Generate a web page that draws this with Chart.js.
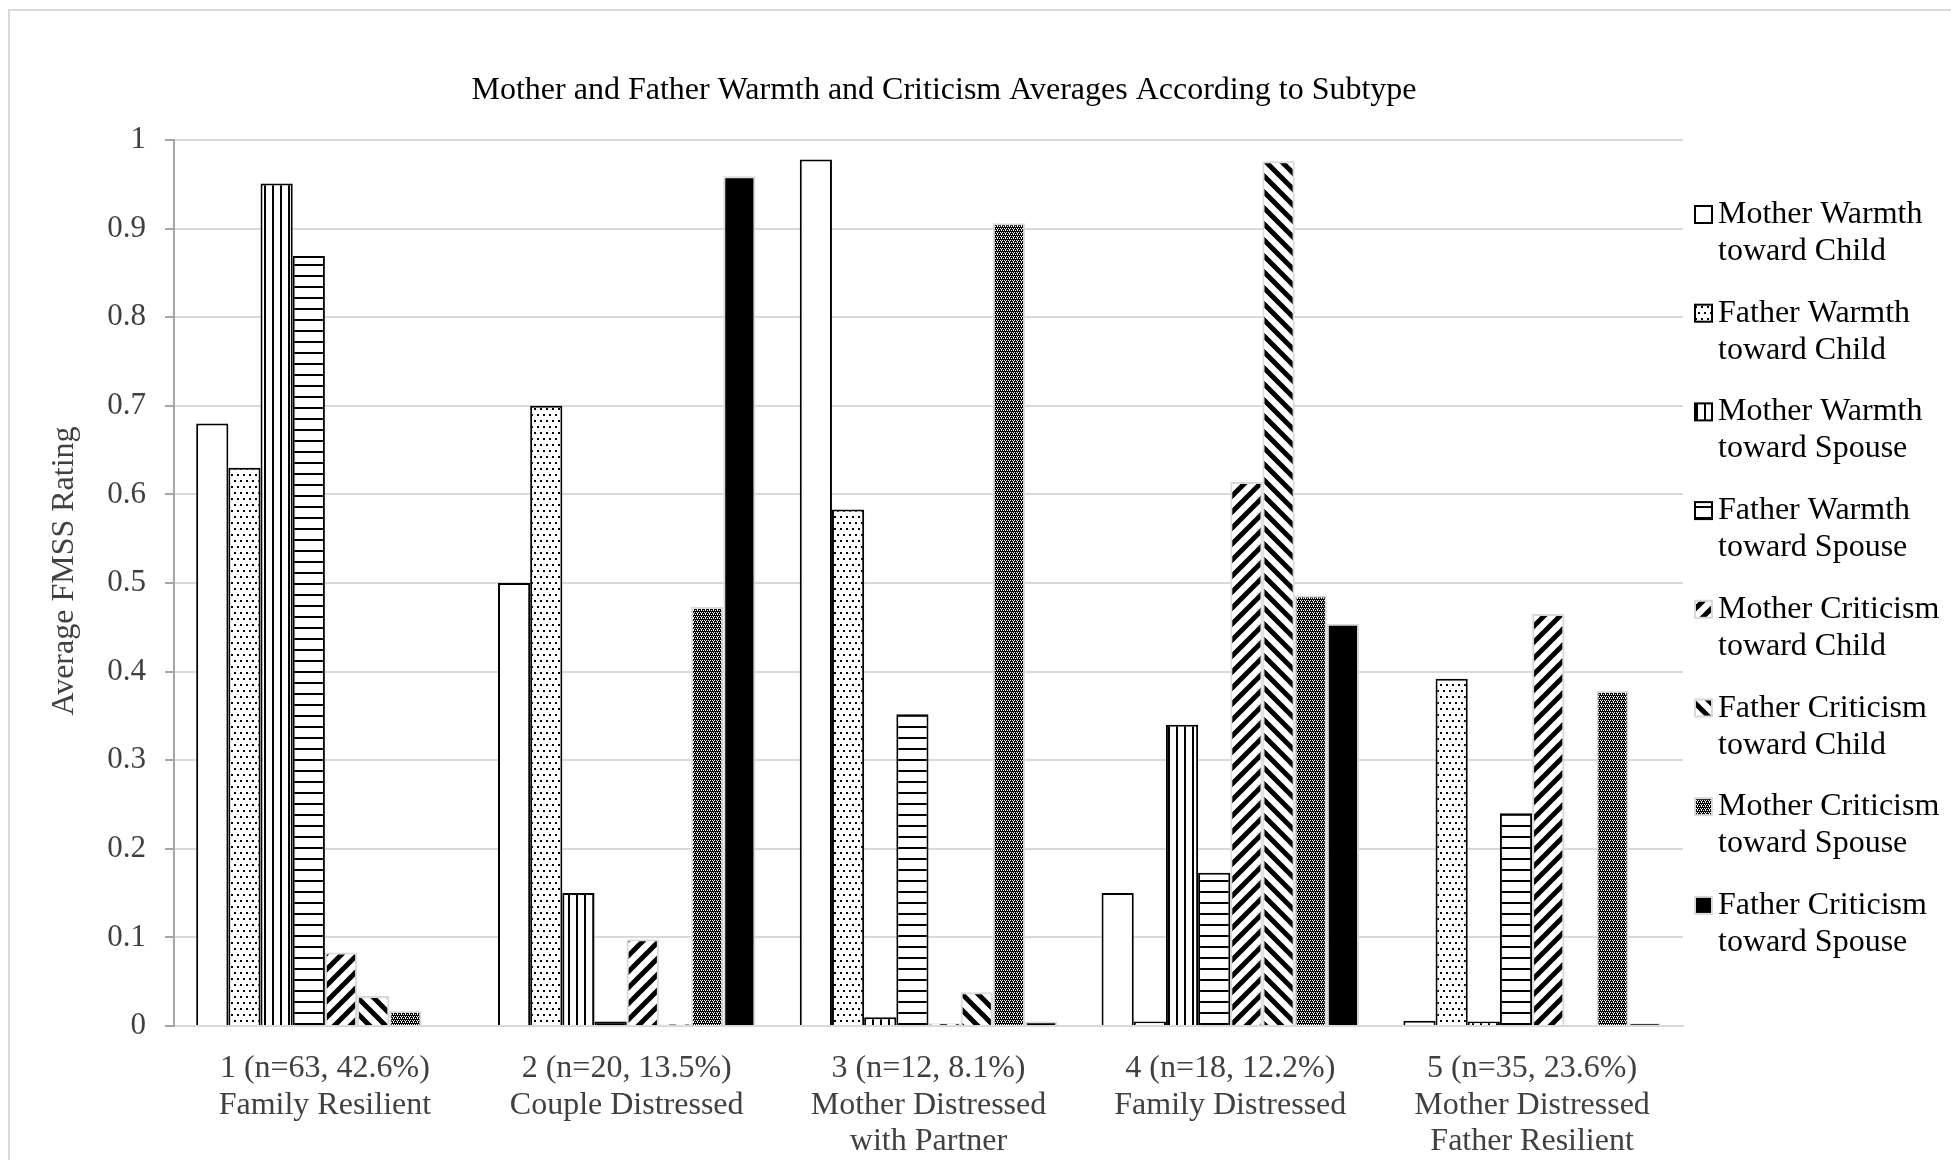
<!DOCTYPE html>
<html>
<head>
<meta charset="utf-8">
<script src="https://cdn.jsdelivr.net/npm/chart.js@4"></script>
<style>
  html, body { margin: 0; padding: 0; background: #fff; overflow: hidden; }
  #frame { position: absolute; left: 8px; top: 9px; width: 2000px; height: 1200px; border: 2px solid #d9d9d9; }
  #wrap { position: absolute; left: 0; top: 0; width: 1951px; height: 1160px; }
</style>
</head>
<body>
<div id="frame"></div>
<div id="wrap"><canvas id="fmssChart"></canvas></div>
<script>
const categories = [
    ["1 (n=63, 42.6%)", "Family Resilient"],
    ["2 (n=20, 13.5%)", "Couple Distressed"],
    ["3 (n=12, 8.1%)", "Mother Distressed", "with Partner"],
    ["4 (n=18, 12.2%)", "Family Distressed"],
    ["5 (n=35, 23.6%)", "Mother Distressed", "Father Resilient"]
];

const seriesNames = [
    ["Mother Warmth", "toward Child"],
    ["Father Warmth", "toward Child"],
    ["Mother Warmth", "toward Spouse"],
    ["Father Warmth", "toward Spouse"],
    ["Mother Criticism", "toward Child"],
    ["Father Criticism", "toward Child"],
    ["Mother Criticism", "toward Spouse"],
    ["Father Criticism", "toward Spouse"]
];

const motherWarmthChild   = [0.68, 0.50, 0.978, 0.15, 0.006];
const fatherWarmthChild   = [0.63, 0.70, 0.583, 0.005, 0.392];
const motherWarmthSpouse  = [0.951, 0.15, 0.01, 0.34, 0.005];
const fatherWarmthSpouse  = [0.869, 0.005, 0.352, 0.173, 0.24];
const motherCritChild     = [0.083, 0.098, 0.003, 0.614, 0.465];
const fatherCritChild     = [0.034, 0.002, 0.038, 0.976, 0.001];
const motherCritSpouse    = [0.017, 0.473, 0.906, 0.486, 0.378];
const fatherCritSpouse    = [0.001, 0.959, 0.005, 0.454, 0.003];

const yTicks = [0, 0.1, 0.2, 0.3, 0.4, 0.5, 0.6, 0.7, 0.8, 0.9, 1];

const chartTitle = "Mother and Father Warmth and Criticism Averages According to Subtype";
const yTitle = "Average FMSS Rating";

const serif = "'Times New Roman', 'Liberation Serif', serif";

// pattern tiles, roughly like the Excel fills
function makeTile(w, h, draw) {
    const c = document.createElement("canvas");
    c.width = w;
    c.height = h;
    const g = c.getContext("2d");
    g.fillStyle = "#fff";
    g.fillRect(0, 0, w, h);
    g.fillStyle = "#000";
    g.strokeStyle = "#000";
    draw(g, w, h);
    return document.createElement("canvas").getContext("2d").createPattern(c, "repeat");
}

const fills = [
    "#ffffff",
    makeTile(6, 12, g => { g.fillRect(0, 0, 2, 2); g.fillRect(3, 6, 2, 2); }),
    makeTile(8, 4, g => { g.fillRect(0, 0, 2, 4); }),
    makeTile(4, 11, g => { g.fillRect(0, 0, 4, 2); }),
    makeTile(16, 16, g => {
        g.lineWidth = 5;
        g.beginPath();
        g.moveTo(-4, 20); g.lineTo(20, -4);
        g.moveTo(-12, 12); g.lineTo(12, -12);
        g.moveTo(4, 28); g.lineTo(28, 4);
        g.stroke();
    }),
    makeTile(16, 16, g => {
        g.lineWidth = 5;
        g.beginPath();
        g.moveTo(-4, -4); g.lineTo(20, 20);
        g.moveTo(-12, 4); g.lineTo(12, 28);
        g.moveTo(4, -12); g.lineTo(28, 12);
        g.stroke();
    }),
    makeTile(4, 4, g => {
        g.fillRect(0, 0, 4, 4);
        g.fillStyle = "#fff";
        g.fillRect(0, 0, 1, 1); g.fillRect(2, 0, 1, 1);
        g.fillRect(1, 2, 1, 1); g.fillRect(3, 2, 1, 1);
        g.fillRect(1, 1, 1, 1);
    }),
    "#000000"
];
const edges = ["#000", "#000", "#000", "#000", "#d9d9d9", "#d9d9d9", "#d9d9d9", "#d9d9d9"];

const allValues = [motherWarmthChild, fatherWarmthChild, motherWarmthSpouse, fatherWarmthSpouse,
                   motherCritChild, fatherCritChild, motherCritSpouse, fatherCritSpouse];

const datasets = allValues.map((vals, i) => ({
    label: seriesNames[i].join(" "),
    data: vals,
    backgroundColor: fills[i],
    borderColor: edges[i],
    borderWidth: 2,
    categoryPercentage: 0.853,
    barPercentage: 1.0
}));

// title, y title and the right-hand legend drawn by hand
const sideBits = {
    id: "sideBits",
    afterDraw(chart) {
        const ctx = chart.ctx;
        ctx.save();
        ctx.fillStyle = "#000";
        ctx.font = "32px " + serif;
        ctx.textAlign = "center";
        ctx.textBaseline = "alphabetic";
        ctx.fillText(chartTitle, 944, 99);

        ctx.save();
        ctx.fillStyle = "#404040";
        ctx.translate(73, 571);
        ctx.rotate(-Math.PI / 2);
        ctx.fillText(yTitle, 0, 0);
        ctx.restore();

        ctx.textAlign = "left";
        chart.data.datasets.forEach((ds, i) => {
            const top = 206 + i * 98.7;
            ctx.fillStyle = ds.backgroundColor;
            ctx.fillRect(1695, top, 17, 17);
            ctx.strokeStyle = ds.borderColor;
            ctx.lineWidth = 2;
            ctx.strokeRect(1695, top, 17, 17);
            ctx.fillStyle = "#000";
            seriesNames[i].forEach((line, k) => {
                ctx.fillText(line, 1718, top + 17 + k * 37);
            });
        });
        ctx.restore();
    }
};

new Chart(document.getElementById("fmssChart"), {
    type: "bar",
    data: { labels: categories, datasets: datasets },
    plugins: [sideBits],
    options: {
        responsive: true,
        maintainAspectRatio: false,
        animation: false,
        layout: { padding: { top: 140, right: 268, bottom: 0, left: 0 } },
        plugins: {
            legend: { display: false },
            title: { display: false },
            tooltip: { enabled: false }
        },
        scales: {
            x: {
                grid: { display: false, drawTicks: false },
                border: { display: true, color: "#d9d9d9", width: 2 },
                ticks: {
                    color: "#404040",
                    padding: 24,
                    maxRotation: 0,
                    autoSkip: false,
                    font: { family: serif, size: 32, lineHeight: 1.15 }
                },
                afterFit: s => { s.height = 134; }
            },
            y: {
                min: 0,
                max: 1,
                afterBuildTicks: s => { s.ticks = yTicks.map(v => ({ value: v })); },
                grid: { color: "#d9d9d9", lineWidth: 2, tickLength: 9, tickColor: "#a6a6a6" },
                border: { display: true, color: "#a6a6a6", width: 2 },
                ticks: {
                    color: "#404040",
                    padding: 19,
                    font: { family: serif, size: 31 },
                    callback: v => String(+v.toFixed(1))
                },
                afterFit: s => { s.width = 174; }
            }
        }
    }
});
</script>
</body>
</html>
